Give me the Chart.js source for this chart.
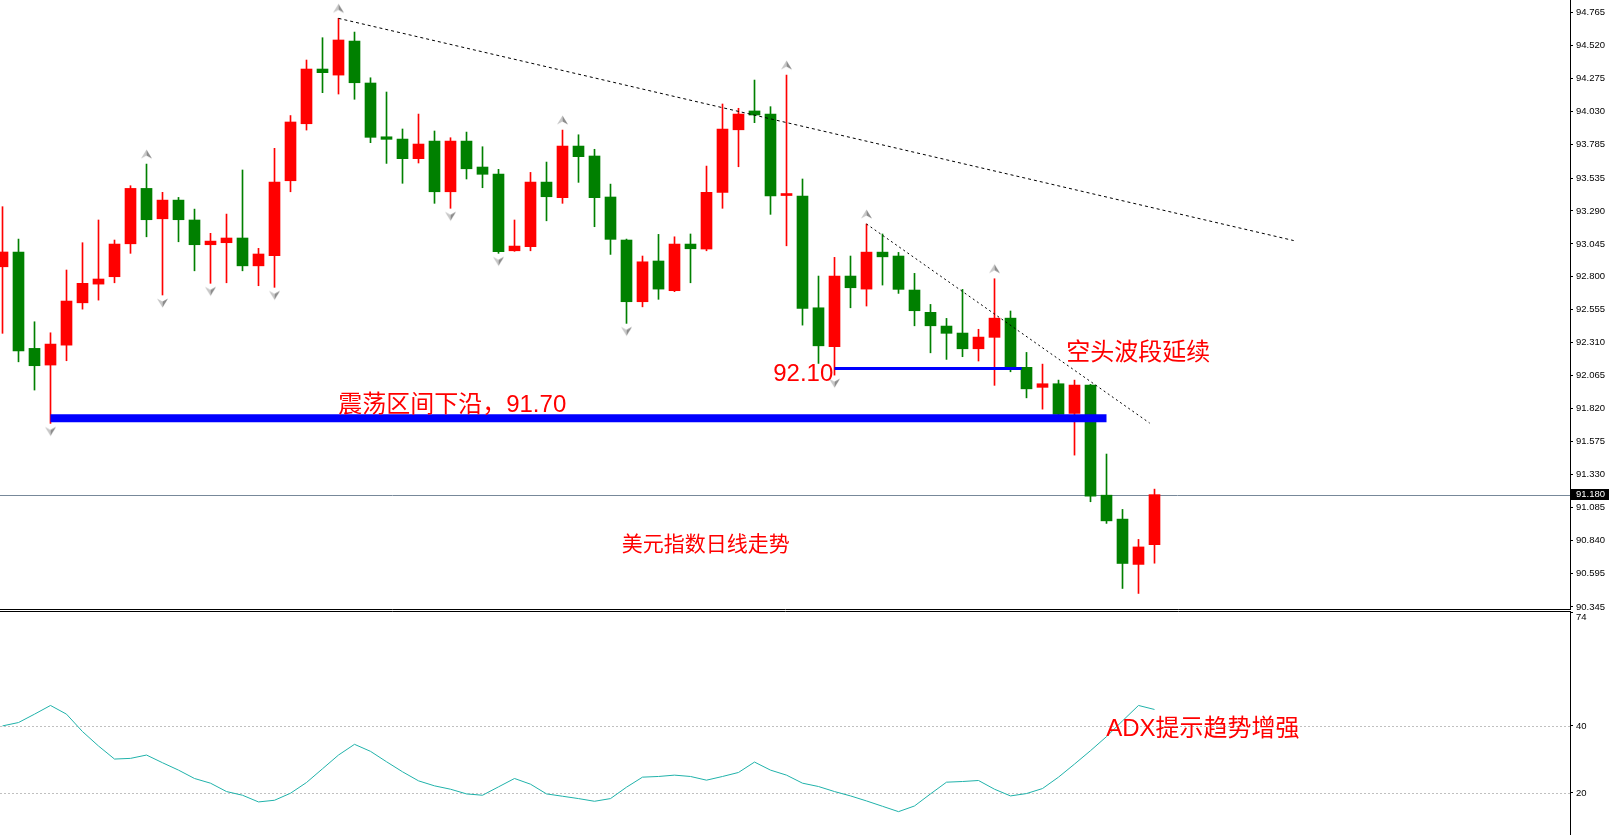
<!DOCTYPE html>
<html>
<head>
<meta charset="utf-8">
<title>美元指数日线走势</title>
<script src="https://cdn.jsdelivr.net/npm/chart.js@4.4.0/dist/chart.umd.min.js"></script>
<style>
  html, body { margin: 0; padding: 0; background: #fff; overflow: hidden; }
  #wrap { position: relative; width: 1611px; height: 835px; }
  #priceChart { position: absolute; left: 0; top: 0; }
  #adxChart { position: absolute; left: 0; top: 611px; }
</style>
</head>
<body>
<div id="wrap">
  <canvas id="priceChart" width="1611" height="611"></canvas>
  <canvas id="adxChart" width="1611" height="224"></canvas>
</div>
<script>
// 日线 K 线数据
const opens = [92.875, 92.985, 92.268, 92.144, 92.292, 92.607, 92.746, 92.801, 93.046, 93.458,
  93.232, 93.371, 93.223, 93.039, 93.054, 93.089, 92.882, 92.957, 93.515, 93.939,
  94.346, 94.301, 94.554, 94.242, 93.842, 93.825, 93.679, 93.810, 93.433, 93.810,
  93.617, 93.565, 92.994, 93.024, 93.505, 93.389, 93.773, 93.699, 93.394, 93.074,
  92.615, 92.918, 92.697, 93.044, 93.007, 93.429, 93.894, 94.034, 94.011, 93.405,
  93.401, 92.570, 92.280, 92.806, 92.709, 92.984, 92.955, 92.702, 92.536, 92.434,
  92.382, 92.265, 92.350, 92.493, 92.127, 91.978, 92.005, 91.784, 91.995, 91.176,
  90.998, 90.661, 90.808];
const highs = [93.322, 93.081, 92.466, 92.384, 92.851, 93.054, 93.223, 93.074, 93.478, 93.639,
  93.429, 93.391, 93.304, 93.124, 93.267, 93.595, 93.012, 93.756, 94.000, 94.413,
  94.579, 94.723, 94.621, 94.281, 94.175, 93.900, 94.011, 93.885, 93.835, 93.877,
  93.768, 93.600, 93.223, 93.577, 93.654, 93.892, 93.857, 93.749, 93.490, 93.081,
  92.955, 93.116, 93.098, 93.119, 93.624, 94.086, 94.054, 94.264, 94.066, 94.301,
  93.528, 92.806, 92.945, 92.955, 93.193, 93.119, 92.982, 92.826, 92.595, 92.491,
  92.707, 92.410, 92.786, 92.546, 92.238, 92.151, 92.032, 92.032, 92.000, 91.482,
  91.070, 90.847, 91.221];
const lows = [92.380, 92.168, 91.958, 91.710, 92.176, 92.560, 92.627, 92.756, 92.975, 93.098,
  92.665, 93.061, 92.845, 92.752, 92.756, 92.845, 92.734, 92.722, 93.433, 93.892,
  94.170, 94.160, 94.121, 93.798, 93.644, 93.496, 93.647, 93.347, 93.310, 93.528,
  93.463, 92.975, 92.990, 92.994, 93.217, 93.347, 93.503, 93.173, 92.967, 92.454,
  92.577, 92.633, 92.690, 92.756, 92.994, 93.310, 93.619, 93.947, 93.265, 93.031,
  92.441, 92.156, 92.069, 92.570, 92.583, 92.739, 92.677, 92.436, 92.235, 92.186,
  92.206, 92.174, 91.993, 92.094, 91.900, 91.816, 91.727, 91.474, 91.127, 90.966,
  90.482, 90.445, 90.670];
const closes = [92.985, 92.250, 92.139, 92.300, 92.620, 92.752, 92.784, 93.044, 93.458, 93.225,
  93.371, 93.225, 93.039, 93.066, 93.089, 92.882, 92.970, 93.505, 93.952, 94.346,
  94.319, 94.562, 94.244, 93.838, 93.823, 93.679, 93.788, 93.433, 93.810, 93.604,
  93.563, 92.987, 93.029, 93.505, 93.396, 93.773, 93.694, 93.389, 93.079, 92.615,
  92.912, 92.709, 93.044, 93.009, 93.429, 93.900, 94.011, 94.004, 93.403, 93.412,
  92.566, 92.287, 92.806, 92.719, 92.984, 92.949, 92.707, 92.548, 92.436, 92.380,
  92.265, 92.352, 92.493, 92.127, 91.967, 92.005, 91.777, 91.995, 91.169, 90.985,
  90.668, 90.791, 91.180];

// ADX 主线
const adxValues = [40.0, 41.0, 43.5, 46.1, 43.5, 38.3, 34.0, 30.1, 30.3, 31.3,
  29.0, 26.8, 24.3, 22.9, 20.4, 19.3, 17.3, 17.8, 19.9, 23.1,
  27.2, 31.3, 34.5, 32.4, 29.3, 26.3, 23.6, 22.1, 21.1, 19.7,
  19.3, 21.8, 24.3, 22.6, 19.7, 19.0, 18.3, 17.5, 18.3, 21.7,
  24.7, 24.9, 25.3, 24.9, 23.8, 24.9, 26.1, 29.2, 26.8, 25.3,
  22.9, 21.9, 20.4, 19.1, 17.6, 16.0, 14.4, 16.1, 19.7, 23.2,
  23.4, 23.7, 21.1, 19.1, 19.8, 21.3, 24.7, 28.6, 32.6, 36.8,
  41.5, 46.1, 44.9];

// 刻度
const priceTicks = [94.765, 94.520, 94.275, 94.030, 93.785, 93.535, 93.290, 93.045, 92.800, 92.555,
  92.310, 92.065, 91.820, 91.575, 91.330, 91.085, 90.840, 90.595, 90.345];
const adxTicks = [74, 40, 20];
const adxLevels = [20, 40];
const currentPrice = 91.180;

// 分形箭头（K 线序号）
const upFractals = [9, 21, 35, 49, 54, 62];
const downFractals = [3, 10, 13, 17, 28, 31, 39, 52];

// 画线
const trendLineA = [{x: 21, y: 94.723}, {x: 80.7, y: 93.07}];
const trendLineB = [{x: 54, y: 93.193}, {x: 71.7, y: 91.712}];
const rangeLowLine = [{x: 3, y: 91.748}, {x: 69, y: 91.748}];
const swingLowLine = [{x: 52, y: 92.119}, {x: 63.7, y: 92.119}];

// 文字标注
const priceNotes = [
  {text: '震荡区间下沿，91.70', x: 20.98, y: 91.842, size: 24},
  {text: '92.10', x: 48.17, y: 92.077, size: 24},
  {text: '空头波段延续', x: 66.48, y: 92.233, size: 24},
  {text: '美元指数日线走势', x: 38.71, y: 90.801, size: 21}
];
const adxNotes = [
  {text: 'ADX提示趋势增强', x: 68.98, y: 39.1, size: 24}
];

// 16px 一根 K 线，右侧价格轴 41px 宽
const X_MIN = -0.15625;
const X_MAX = 97.96875;
const Y_MIN = 90.3293;
const Y_MAX = 94.8595;
const ADX_MIN = 7.43;
const ADX_MAX = 74;

const UP = '#ff0000';
const DOWN = '#008000';
const FONT = '"Liberation Sans", "Noto Sans CJK SC", sans-serif';

Chart.defaults.font.family = FONT;

const candleColors = closes.map((c, i) => c >= opens[i] ? UP : DOWN);

function arrowImage(up) {
  const c = document.createElement('canvas');
  c.width = 13;
  c.height = 32;
  const g = c.getContext('2d');
  const cx = 6.5;
  if (up) {
    g.fillStyle = '#c8c8c8';
    g.beginPath(); g.moveTo(cx, 1.5); g.lineTo(1, 10.5); g.lineTo(cx, 7.5); g.closePath(); g.fill();
    g.fillStyle = '#8c8c8c';
    g.beginPath(); g.moveTo(cx, 1.5); g.lineTo(12, 10.5); g.lineTo(cx, 7.5); g.closePath(); g.fill();
  } else {
    g.fillStyle = '#c8c8c8';
    g.beginPath(); g.moveTo(cx, 28.5); g.lineTo(1, 19.5); g.lineTo(cx, 22.5); g.closePath(); g.fill();
    g.fillStyle = '#8c8c8c';
    g.beginPath(); g.moveTo(cx, 28.5); g.lineTo(12, 19.5); g.lineTo(cx, 22.5); g.closePath(); g.fill();
  }
  return c;
}

const notesPlugin = {
  id: 'notes',
  afterDatasetsDraw(chart, args, opts) {
    const {ctx, scales: {x, y}} = chart;
    ctx.save();
    ctx.fillStyle = '#ff0000';
    ctx.textBaseline = 'middle';
    ctx.textAlign = 'left';
    opts.items.forEach(n => {
      ctx.font = n.size + 'px ' + FONT;
      ctx.fillText(n.text, x.getPixelForValue(n.x), y.getPixelForValue(n.y));
    });
    ctx.restore();
  }
};

const bidLinePlugin = {
  id: 'bidLine',
  beforeDatasetsDraw(chart) {
    const {ctx, chartArea, scales: {y}} = chart;
    const py = Math.round(y.getPixelForValue(currentPrice)) + 0.5;
    ctx.save();
    ctx.strokeStyle = '#778899';
    ctx.lineWidth = 1;
    ctx.beginPath();
    ctx.moveTo(chartArea.left, py);
    ctx.lineTo(chartArea.right, py);
    ctx.stroke();
    ctx.restore();
  },
  afterDraw(chart) {
    const {ctx, chartArea, scales: {y}} = chart;
    const py = y.getPixelForValue(currentPrice);
    ctx.save();
    ctx.fillStyle = '#000';
    ctx.fillRect(chartArea.right + 1, Math.round(py - 5.5), 38, 11);
    ctx.fillStyle = '#fff';
    ctx.font = '9.5px "Liberation Sans"';
    ctx.textBaseline = 'middle';
    ctx.fillText(currentPrice.toFixed(3), chartArea.right + 6, py);
    // 主图下边框
    ctx.clearRect(0, chartArea.bottom - 3, chartArea.right, chart.height - chartArea.bottom + 3);
    ctx.strokeStyle = '#000';
    ctx.lineWidth = 1;
    ctx.beginPath();
    ctx.moveTo(0, chartArea.bottom + 0.5);
    ctx.lineTo(chartArea.right + 1, chartArea.bottom + 0.5);
    ctx.stroke();
    ctx.restore();
  }
};

const levelsPlugin = {
  id: 'levels',
  beforeDatasetsDraw(chart) {
    const {ctx, chartArea, scales: {y}} = chart;
    ctx.save();
    ctx.strokeStyle = '#c0c0c0';
    ctx.lineWidth = 1;
    ctx.setLineDash([2, 2]);
    adxLevels.forEach(v => {
      const py = Math.round(y.getPixelForValue(v)) + 0.5;
      ctx.beginPath();
      ctx.moveTo(chartArea.left, py);
      ctx.lineTo(chartArea.right, py);
      ctx.stroke();
    });
    ctx.restore();
  },
  afterDraw(chart) {
    const {ctx, chartArea} = chart;
    ctx.save();
    ctx.clearRect(0, 0, chartArea.right, 5);
    ctx.strokeStyle = '#000';
    ctx.lineWidth = 1;
    ctx.beginPath();
    ctx.moveTo(0, 0.5);
    ctx.lineTo(chartArea.right + 1, 0.5);
    ctx.stroke();
    ctx.restore();
  }
};

function rightAxis(min, max, values, label) {
  return {
    position: 'right',
    min: min,
    max: max,
    afterBuildTicks: s => { s.ticks = values.map(v => ({value: v})); },
    afterFit: s => { s.width = 41; s.paddingTop = 0; s.paddingBottom = 0; },
    grid: {drawOnChartArea: false, tickLength: 3, color: '#000', lineWidth: 1},
    border: {color: '#000', width: 1},
    ticks: {
      padding: 3,
      color: '#000',
      autoSkip: false,
      font: {size: 9.5, family: 'Liberation Sans'},
      callback: label
    }
  };
}

function hiddenX() {
  return {type: 'linear', min: X_MIN, max: X_MAX, display: false, offset: false};
}

// 主图：K 线 + 画线
const ctx1 = document.getElementById('priceChart').getContext('2d');
const priceChart = new Chart(ctx1, {
  type: 'bar',
  data: {
    datasets: [
      {
        type: 'line', label: 'range', data: rangeLowLine, order: 0,
        borderColor: '#0000ff', borderWidth: 8, borderCapStyle: 'butt', pointRadius: 0
      },
      {
        type: 'line', label: 'swing', data: swingLowLine, order: 0,
        borderColor: '#0000ff', borderWidth: 3, borderCapStyle: 'butt', pointRadius: 0
      },
      {
        type: 'line', label: 'trendA', data: trendLineA, order: 0,
        borderColor: '#000', borderWidth: 1, borderDash: [3, 3], pointRadius: 0
      },
      {
        type: 'line', label: 'trendB', data: trendLineB, order: 0,
        borderColor: '#000', borderWidth: 1, borderDash: [2, 3], pointRadius: 0
      },
      {
        type: 'scatter', label: 'fractalUp', order: 1,
        data: upFractals.map(i => ({x: i, y: highs[i]})),
        pointStyle: arrowImage(true), pointRadius: 5
      },
      {
        type: 'scatter', label: 'fractalDown', order: 1,
        data: downFractals.map(i => ({x: i, y: lows[i]})),
        pointStyle: arrowImage(false), pointRadius: 5
      },
      {
        label: 'body', order: 2,
        data: opens.map((o, i) => ({x: i, y: [o, closes[i]]})),
        backgroundColor: candleColors,
        barThickness: 11, minBarLength: 2, grouped: false, borderWidth: 0
      },
      {
        label: 'wick', order: 3,
        data: lows.map((l, i) => ({x: i, y: [l, highs[i]]})),
        backgroundColor: candleColors,
        barThickness: 1, grouped: false, borderWidth: 0
      }
    ]
  },
  options: {
    responsive: false,
    animation: false,
    events: [],
    layout: {autoPadding: false, padding: {left: 0, right: 0, top: 0, bottom: 2}},
    plugins: {
      legend: {display: false},
      tooltip: {enabled: false},
      notes: {items: priceNotes}
    },
    scales: {
      x: hiddenX(),
      y: rightAxis(Y_MIN, Y_MAX, priceTicks, v => v.toFixed(3))
    }
  },
  plugins: [bidLinePlugin, notesPlugin]
});

// 副图：ADX
const ctx2 = document.getElementById('adxChart').getContext('2d');
const adxChart = new Chart(ctx2, {
  type: 'line',
  data: {
    datasets: [{
      label: 'ADX',
      data: adxValues.map((v, i) => ({x: i, y: v})),
      borderColor: '#20b2aa',
      borderWidth: 1,
      pointRadius: 0,
      tension: 0
    }]
  },
  options: {
    responsive: false,
    animation: false,
    events: [],
    layout: {autoPadding: false, padding: {left: 0, right: 0, top: 1, bottom: 0}},
    plugins: {
      legend: {display: false},
      tooltip: {enabled: false},
      notes: {items: adxNotes}
    },
    scales: {
      x: hiddenX(),
      y: rightAxis(ADX_MIN, ADX_MAX, adxTicks, v => v === 74 ? ['', '74'] : String(v))
    }
  },
  plugins: [levelsPlugin, notesPlugin]
});
</script>
</body>
</html>
